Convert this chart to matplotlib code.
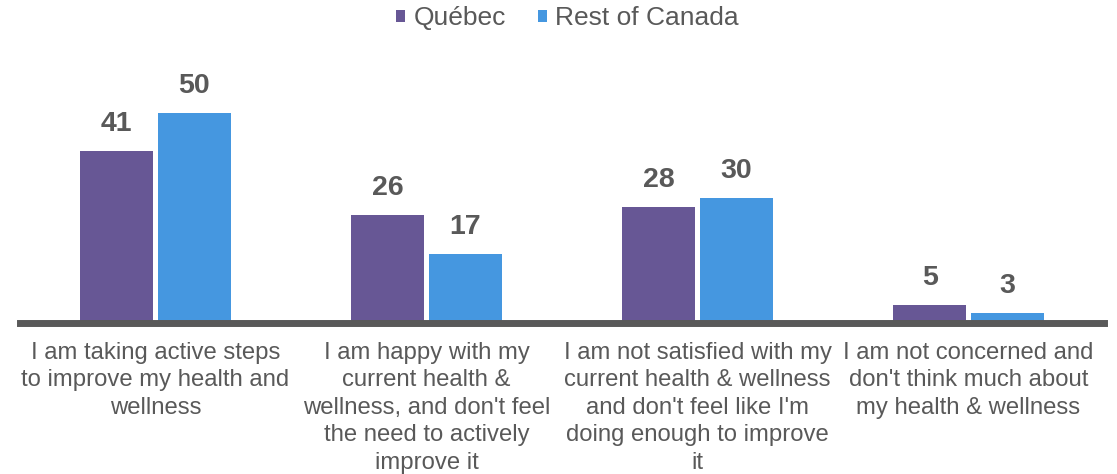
import matplotlib
matplotlib.use("Agg")
import matplotlib.pyplot as plt
import numpy as np

plt.rcParams['font.family'] = ['Liberation Sans', 'DejaVu Sans']

categories = [
    "I am taking active steps\nto improve my health and\nwellness",
    "I am happy with my\ncurrent health &\nwellness, and don't feel\nthe need to actively\nimprove it",
    "I am not satisfied with my\ncurrent health & wellness\nand don't feel like I'm\ndoing enough to improve\nit",
    "I am not concerned and\ndon't think much about\nmy health & wellness",
]
series_names = ["Québec", "Rest of Canada"]
quebec = [41, 26, 28, 5]
rest_of_canada = [50, 17, 30, 3]

colors = ["#675795", "#4597E0"]
text_color = "#595959"

W, H = 1117, 474
fig = plt.figure(figsize=(W / 100, H / 100), dpi=100)
# zero line at 326 px from the top, 4.26 px per unit
ymax = 55
ax = fig.add_axes([20 / W, (H - 326) / H, 1084 / W, ymax * 4.26 / H])

x = np.arange(len(categories))
width = 0.27
offset = 0.143
bars_q = ax.bar(x - offset, quebec, width, color=colors[0], label=series_names[0], zorder=2)
bars_r = ax.bar(x + offset, rest_of_canada, width, color=colors[1], label=series_names[1], zorder=2)

for bars in (bars_q, bars_r):
    for b in bars:
        ax.annotate(f"{b.get_height():g}", (b.get_x() + b.get_width() / 2, b.get_height()),
                    xytext=(0, 20), textcoords="offset pixels", ha="center", va="baseline",
                    fontsize=20.5, fontweight="bold", color=text_color)

for s in ("top", "left", "right"):
    ax.spines[s].set_visible(False)
ax.spines["bottom"].set_position(("outward", -2.52))
ax.spines["bottom"].set_color("#595959")
ax.spines["bottom"].set_linewidth(5.0)
ax.spines["bottom"].set_zorder(3)

ax.set_xlim(-0.5, 3.5)
ax.set_ylim(0, ymax)
ax.set_yticks([])
ax.set_xticks(x)
ax.set_xticklabels(categories, fontsize=17.2, color=text_color, linespacing=1.32)
ax.tick_params(axis="x", length=0, pad=14)

leg = fig.legend(loc="upper center", bbox_to_anchor=(567.5 / W, 1.037), ncol=2, frameon=False,
                 fontsize=19, handlelength=0.33, handleheight=0.33, handletextpad=0.33,
                 columnspacing=1.22)
for t in leg.get_texts():
    t.set_color(text_color)

fig.savefig("out.png", dpi=100)
